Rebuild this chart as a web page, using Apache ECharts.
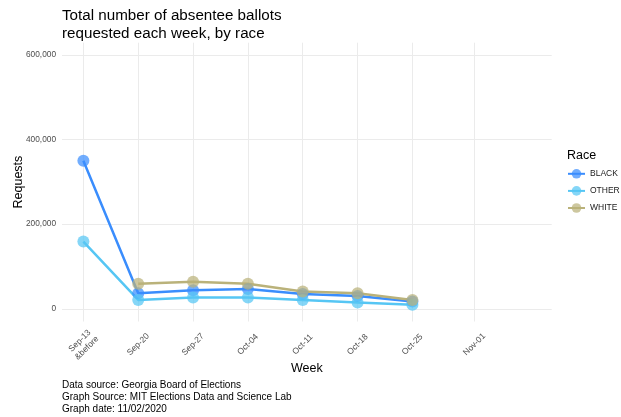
<!DOCTYPE html>
<html>
<head>
<meta charset="utf-8">
<script src="https://cdn.jsdelivr.net/npm/echarts@6/dist/echarts.min.js"></script>
<style>html,body{margin:0;padding:0;background:#fff}#c{width:621px;height:417px}</style>
</head>
<body>
<div id="c"></div>
<script>
const weeks = ['Sep-13\n&before', 'Sep-20', 'Sep-27', 'Oct-04', 'Oct-11', 'Oct-18', 'Oct-25', 'Nov-01'];
const raceNames = ['BLACK', 'OTHER', 'WHITE'];
const black = [350000, 37000, 44000, 47000, 35000, 30000, 17000, null];
const other = [159000, 21000, 27000, 27000, 21000, 15000, 9500, null];
const white = [null, 59000, 64000, 59000, 41000, 37000, 21000, null];
const yTicks = [0, 200000, 400000, 600000];

// axis layout: week slots along a numeric axis (last label sits slightly wider)
const weekPos = [0, 1, 2, 3, 4, 5, 6, 7.13];
const colors = ['#3a8dfd', '#56c6f4', '#bab27a'];
const seriesValues = [black, other, white];
const FONT = "'Liberation Sans', Arial, sans-serif";

function fmt(v) { return String(v).replace(/\B(?=(\d{3})+(?!\d))/g, ','); }

const chart = echarts.init(document.getElementById('c'), null, {renderer: 'canvas'});
chart.setOption({
  animation: false,
  backgroundColor: '#ffffff',
  textStyle: {fontFamily: FONT},
  title: [
    {text: 'Total number of absentee ballots\nrequested each week, by race', left: 62, top: 7, padding: 0,
     textStyle: {fontSize: 15.2, lineHeight: 18, fontWeight: 'normal', color: '#000', fontFamily: FONT}},
    {text: 'Race', left: 567, top: 149, padding: 0,
     textStyle: {fontSize: 12.5, fontWeight: 'normal', color: '#000', fontFamily: FONT}},
    {text: 'Data source: Georgia Board of Elections\nGraph Source: MIT Elections Data and Science Lab\nGraph date: 11/02/2020',
     left: 62, top: 379, padding: 0,
     textStyle: {fontSize: 10, lineHeight: 12, fontWeight: 'normal', color: '#000', fontFamily: FONT}}
  ],
  legend: {
    orient: 'vertical', left: 567, top: 169, padding: 0,
    itemWidth: 17, itemHeight: 12, itemGap: 7.5,
    data: raceNames,
    textStyle: {fontSize: 8.5, color: '#1a1a1a', fontFamily: FONT}
  },
  grid: {left: 62, right: 69.3, top: 42.7, bottom: 95.5, containLabel: false, outerBoundsMode: 'none'},
  xAxis: {
    type: 'value', min: -0.39, max: 8.54,
    name: 'Week', nameLocation: 'middle', nameGap: 41, nameMoveOverlap: false,
    nameTextStyle: {fontSize: 12.5, color: '#000', fontFamily: FONT},
    axisLine: {show: false, onZero: false},
    axisTick: {show: false, customValues: weekPos},
    axisLabel: {
      customValues: weekPos, rotate: 45, fontSize: 8.5, color: '#4d4d4d', lineHeight: 10,
      margin: 23, align: 'center', verticalAlign: 'middle',
      formatter: function (v) {
        let best = 0;
        weekPos.forEach((p, i) => { if (Math.abs(p - v) < Math.abs(weekPos[best] - v)) best = i; });
        return weeks[best];
      }
    },
    splitLine: {show: true, lineStyle: {color: '#ebebeb', width: 1}}
  },
  yAxis: {
    type: 'value', min: -30000, max: 629000,
    name: 'Requests', nameLocation: 'middle', nameGap: 37, nameMoveOverlap: false,
    nameTextStyle: {fontSize: 12.5, color: '#000', fontFamily: FONT},
    axisLine: {show: false, onZero: false},
    axisTick: {show: false, customValues: yTicks},
    axisLabel: {customValues: yTicks, fontSize: 8.3, color: '#4d4d4d', margin: 6, formatter: v => fmt(v)},
    splitLine: {show: true, lineStyle: {color: '#ebebeb', width: 1}}
  },
  series: raceNames.map((name, k) => ({
    name: name,
    type: 'line',
    data: seriesValues[k].map((v, i) => [weekPos[i], v]),
    symbol: 'circle', symbolSize: 12, showSymbol: true,
    connectNulls: false,
    color: colors[k],
    lineStyle: {width: 2.5, color: colors[k]},
    itemStyle: {color: colors[k], opacity: 0.72},
    emphasis: {disabled: true}
  }))
});
</script>
</body>
</html>
